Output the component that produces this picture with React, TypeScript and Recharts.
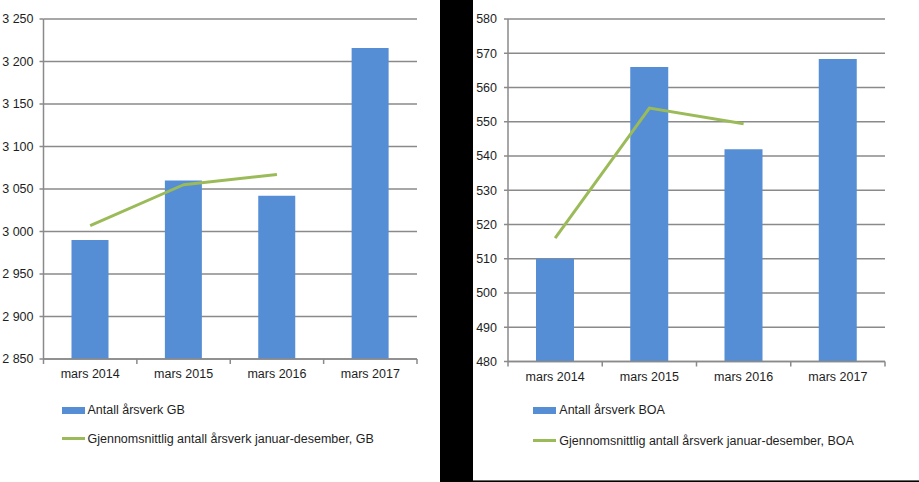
import React from 'react';
import { ComposedChart, Bar, Line, XAxis, YAxis, CartesianGrid, Legend } from 'recharts';

const categories = ['mars 2014', 'mars 2015', 'mars 2016', 'mars 2017'];
const gbBarValues = [2990, 3060, 3042, 3216];
const gbLineValues: (number | null)[] = [3007, 3055, 3067, null];
const boaBarValues = [510, 566, 542, 568.3];
const boaLineValues: (number | null)[] = [516, 554, 549.4, null];
const gbTicks = [2850, 2900, 2950, 3000, 3050, 3100, 3150, 3200, 3250];
const boaTicks = [480, 490, 500, 510, 520, 530, 540, 550, 560, 570, 580];
const gbBarName = 'Antall årsverk GB';
const gbLineName = 'Gjennomsnittlig antall årsverk januar-desember, GB';
const boaBarName = 'Antall årsverk BOA';
const boaLineName = 'Gjennomsnittlig antall årsverk januar-desember, BOA';

const gbData = categories.map((c, i) => ({ name: c, bar: gbBarValues[i], line: gbLineValues[i] }));
const boaData = categories.map((c, i) => ({ name: c, bar: boaBarValues[i], line: boaLineValues[i] }));

const FONT = '"Liberation Sans", Arial, sans-serif';
const FS = 12.5;
const TXT = '#1e1e1e';
const GRID = '#8a8a8a';
const BLUE = '#558ED5';
const GREEN = '#9BBB59';

const fmtThousands = (v: number) => {
  const s = String(Math.round(v));
  return s.replace(/\B(?=(\d{3})+(?!\d))/g, ' ');
};

const makeXTick = (fallbackBand: number) => (props: any) => {
  const { x, y, payload, index, visibleTicksCount } = props;
  const count = visibleTicksCount || 4;
  const bw = typeof props.width === 'number' && props.width > 0 ? props.width / count : fallbackBand;
  return (
    <g>
      <line x1={x - bw / 2} x2={x - bw / 2} y1={y} y2={y + 5} stroke={GRID} strokeWidth={1.5} />
      {index === count - 1 && (
        <line x1={x + bw / 2} x2={x + bw / 2} y1={y} y2={y + 5} stroke={GRID} strokeWidth={1.5} />
      )}
      <text x={x} y={y + 15} textAnchor="middle" dominantBaseline="central" fill={TXT} fontSize={FS} fontFamily={FONT}>
        {payload.value}
      </text>
    </g>
  );
};

const makeLegend = (gap: number) => (props: any) => {
  const payload = props.payload || [];
  return (
    <div style={{ fontFamily: FONT, fontSize: FS, color: TXT }}>
      {payload.map((e: any, i: number) => (
        <div key={i} style={{ display: 'flex', alignItems: 'center', height: 16, marginTop: i === 0 ? 0 : gap, whiteSpace: 'nowrap' }}>
          <div
            style={{
              width: 23,
              height: e.type === 'line' ? 3 : 7,
              background: e.color,
              marginRight: 3,
            }}
          />
          <span>{e.value}</span>
        </div>
      ))}
    </div>
  );
};

export default function App() {
  return (
    <div style={{ position: 'absolute', left: 0, top: 0, width: 919, height: 482, background: '#000', overflow: 'hidden' }}>
      <div style={{ position: 'absolute', left: 0, top: 0, width: 440, height: 482, background: '#fff' }}>
        <ComposedChart width={440} height={482} data={gbData} margin={{ top: 19, right: 23, bottom: 0, left: 0 }}>
          <CartesianGrid vertical={false} stroke={GRID} strokeWidth={1.5} />
          <XAxis
            dataKey="name"
            height={123}
            tickLine={false}
            tickSize={0}
            tickMargin={0}
            axisLine={{ stroke: GRID, strokeWidth: 1.5 }}
            tick={makeXTick(93.4)}
            interval={0}
          />
          <YAxis
            width={43.5}
            domain={[2850, 3250]}
            ticks={gbTicks}
            interval={0}
            tickFormatter={fmtThousands}
            tickSize={4}
            tickMargin={6}
            tickLine={{ stroke: GRID, strokeWidth: 1.5 }}
            axisLine={{ stroke: GRID, strokeWidth: 1.5 }}
            tick={{ fill: TXT, fontSize: FS, fontFamily: FONT }}
          />
          <Bar dataKey="bar" name={gbBarName} fill={BLUE} barSize={37} isAnimationActive={false} legendType="rect" />
          <Line
            dataKey="line"
            name={gbLineName}
            type="linear"
            stroke={GREEN}
            strokeWidth={3}
            strokeLinejoin="round"
            dot={false}
            activeDot={false}
            connectNulls={false}
            isAnimationActive={false}
            legendType="line"
          />
          <Legend
            layout="vertical"
            align="center"
            verticalAlign="middle"
            content={makeLegend(12.7)}
            wrapperStyle={{ left: 61.5, top: 402, width: 'auto' }}
          />
        </ComposedChart>
      </div>
      <div style={{ position: 'absolute', left: 473, top: 0, width: 446, height: 480, background: '#fff' }}>
        <ComposedChart width={446} height={480} data={boaData} margin={{ top: 19, right: 34, bottom: 0, left: 0 }}>
          <CartesianGrid vertical={false} stroke={GRID} strokeWidth={1.5} />
          <XAxis
            dataKey="name"
            height={118.5}
            tickLine={false}
            tickSize={0}
            tickMargin={0}
            axisLine={{ stroke: GRID, strokeWidth: 1.5 }}
            tick={makeXTick(94.3)}
            interval={0}
          />
          <YAxis
            width={35}
            domain={[480, 580]}
            ticks={boaTicks}
            interval={0}
            tickSize={4}
            tickMargin={7}
            tickLine={{ stroke: GRID, strokeWidth: 1.5 }}
            axisLine={{ stroke: GRID, strokeWidth: 1.5 }}
            tick={{ fill: TXT, fontSize: FS, fontFamily: FONT }}
          />
          <Bar dataKey="bar" name={boaBarName} fill={BLUE} barSize={38} isAnimationActive={false} legendType="rect" />
          <Line
            dataKey="line"
            name={boaLineName}
            type="linear"
            stroke={GREEN}
            strokeWidth={3}
            dot={false}
            activeDot={false}
            connectNulls={false}
            isAnimationActive={false}
            legendType="line"
          />
          <Legend
            layout="vertical"
            align="center"
            verticalAlign="middle"
            content={makeLegend(14.7)}
            wrapperStyle={{ left: 60.3, top: 402, width: 'auto' }}
          />
        </ComposedChart>
      </div>
      <div style={{ position: 'absolute', left: 473, top: 480, width: 446, height: 1, background: '#666' }} />
    </div>
  );
}
